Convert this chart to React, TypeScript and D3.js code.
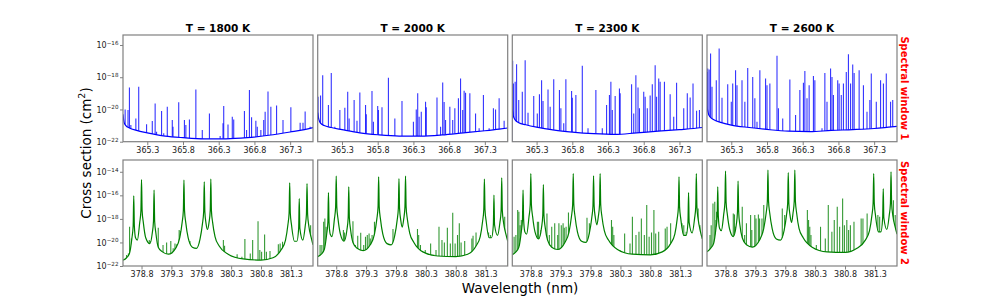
import React, { useEffect, useRef } from "react";
import * as d3 from "d3";

// values are [wavelength (nm), log10 cross section (cm^2)]
type Pt = [number, number];

const titles = ["T = 1800 K", "T = 2000 K", "T = 2300 K", "T = 2600 K"];
const windowLabels = ["Spectral window 1", "Spectral window 2"];
const ticksWin1 = [365.3, 365.8, 366.3, 366.8, 367.3];
const ticksWin2 = [378.8, 379.3, 379.8, 380.3, 380.8, 381.3];
const rangeWin1 = [364.96, 367.62];
const rangeWin2 = [378.49, 381.67];
const yExpWin1 = [-22, -20, -18, -16];
const yExpWin2 = [-22, -20, -18, -16, -14];
const yTopWin1 = -15.38;
const yTopWin2 = -13.0;

// ---- spectral window 1: continuum ----
const w1Base1800: Pt[] = [[364.96,-20.3],[364.975,-20.8],[365.0,-21.0],[365.05,-21.15],[365.15,-21.3],[365.3,-21.45],[365.55,-21.65],[365.8,-21.75],[366.1,-21.82],[366.4,-21.82],[366.7,-21.75],[367.0,-21.6],[367.3,-21.4],[367.5,-21.25],[367.62,-21.12]];
const w1Base2000: Pt[] = [[364.96,-20.2],[364.975,-20.6],[365.0,-20.85],[365.05,-21.0],[365.15,-21.12],[365.3,-21.25],[365.55,-21.45],[365.8,-21.57],[366.1,-21.65],[366.4,-21.65],[366.7,-21.58],[367.0,-21.45],[367.3,-21.32],[367.5,-21.22],[367.62,-21.15]];
const w1Base2300: Pt[] = [[364.96,-20.0],[364.975,-20.4],[365.0,-20.65],[365.05,-20.82],[365.15,-20.95],[365.3,-21.1],[365.55,-21.28],[365.8,-21.4],[366.1,-21.5],[366.4,-21.55],[366.7,-21.45],[367.0,-21.35],[367.3,-21.25],[367.5,-21.18],[367.62,-21.12]];
const w1Base2600: Pt[] = [[364.96,-19.8],[364.975,-20.2],[365.0,-20.45],[365.05,-20.62],[365.15,-20.8],[365.3,-20.97],[365.55,-21.12],[365.8,-21.24],[366.1,-21.35],[366.4,-21.38],[366.7,-21.3],[367.0,-21.25],[367.3,-21.18],[367.5,-21.1],[367.62,-21.05]];

// ---- spectral window 1: line peaks ----
const w1Lines1800: Pt[] = [[364.99,-20.0],[365.03,-20.04],[365.05,-18.64],[365.07,-20.97],[365.14,-20.56],[365.18,-18.59],[365.29,-20.91],[365.37,-20.72],[365.41,-19.63],[365.43,-21.38],[365.5,-20.1],[365.53,-21.48],[365.58,-19.83],[365.65,-20.66],[365.66,-21.07],[365.74,-19.56],[365.82,-20.66],[365.84,-20.97],[365.89,-20.62],[365.98,-18.76],[366.07,-21.28],[366.17,-20.25],[366.32,-21.65],[366.36,-20.86],[366.37,-19.79],[366.43,-20.93],[366.49,-20.45],[366.51,-20.62],[366.66,-20.1],[366.69,-21.28],[366.73,-18.8],[366.76,-20.49],[366.82,-20.7],[366.84,-21.07],[366.89,-21.28],[366.93,-20.66],[366.95,-20.14],[366.99,-18.88],[367.03,-19.83],[367.11,-19.75],[367.2,-20.66],[367.31,-19.87],[367.44,-20.82],[367.48,-20.82],[367.51,-20.12],[367.58,-21.07]];
const w1Lines2000: Pt[] = [[364.965,-19.21],[365.0,-19.13],[365.03,-17.87],[365.07,-21.07],[365.11,-19.73],[365.15,-17.73],[365.2,-21.07],[365.27,-20.04],[365.34,-19.89],[365.38,-18.9],[365.4,-20.56],[365.47,-19.42],[365.51,-20.7],[365.55,-18.95],[365.63,-19.73],[365.64,-20.29],[365.72,-18.86],[365.74,-20.76],[365.8,-19.79],[365.81,-20.04],[365.86,-19.87],[365.95,-18.04],[366.04,-20.56],[366.14,-19.48],[366.23,-21.65],[366.3,-20.76],[366.34,-20.0],[366.36,-19.0],[366.38,-20.45],[366.41,-20.14],[366.47,-19.52],[366.48,-19.87],[366.63,-19.25],[366.68,-21.07],[366.71,-18.33],[366.73,-19.54],[366.75,-20.66],[366.81,-19.83],[366.85,-20.66],[366.88,-19.93],[366.93,-19.31],[366.96,-18.08],[366.99,-20.04],[367.01,-18.84],[367.03,-18.97],[367.09,-19.0],[367.17,-20.25],[367.22,-21.17],[367.28,-19.11],[367.36,-21.17],[367.42,-19.93],[367.45,-20.0],[367.5,-19.31],[367.57,-20.7]];
const w1Lines2300: Pt[] = [[364.965,-16.98],[364.975,-18.39],[365.0,-18.28],[365.02,-17.19],[365.05,-19.42],[365.1,-18.9],[365.14,-16.94],[365.18,-20.2],[365.26,-19.17],[365.31,-20.25],[365.34,-19.05],[365.37,-18.18],[365.39,-19.48],[365.46,-18.76],[365.49,-19.83],[365.54,-18.12],[365.62,-18.8],[365.64,-19.93],[365.68,-20.86],[365.71,-18.12],[365.79,-18.86],[365.8,-19.28],[365.85,-19.11],[365.94,-17.29],[366.02,-21.17],[366.13,-18.8],[366.22,-21.17],[366.28,-19.73],[366.32,-19.11],[366.34,-18.28],[366.36,-20.04],[366.4,-19.17],[366.46,-18.7],[366.47,-18.99],[366.63,-18.43],[366.66,-20.25],[366.69,-17.87],[366.72,-18.64],[366.74,-19.93],[366.8,-18.9],[366.82,-19.21],[366.85,-19.93],[366.89,-19.13],[366.92,-18.43],[366.96,-17.25],[366.98,-19.21],[367.01,-18.08],[367.03,-18.28],[367.09,-18.28],[367.17,-19.05],[367.22,-20.45],[367.26,-18.35],[367.36,-19.93],[367.41,-18.99],[367.45,-19.25],[367.49,-18.39],[367.54,-20.08],[367.58,-20.04]];
const w1Lines2600: Pt[] = [[364.965,-17.67],[364.97,-17.46],[364.99,-17.52],[365.01,-16.53],[365.03,-18.59],[365.09,-18.18],[365.13,-16.22],[365.17,-19.28],[365.25,-18.43],[365.3,-19.52],[365.32,-18.39],[365.36,-17.56],[365.38,-18.49],[365.45,-18.18],[365.49,-19.52],[365.53,-17.42],[365.6,-17.98],[365.63,-19.31],[365.66,-20.76],[365.7,-17.56],[365.78,-18.08],[365.8,-18.49],[365.84,-18.39],[365.94,-16.67],[365.96,-19.93],[366.02,-20.56],[366.12,-18.14],[366.2,-20.35],[366.26,-18.8],[366.31,-18.35],[366.33,-17.62],[366.36,-19.31],[366.39,-18.49],[366.45,-17.92],[366.47,-18.18],[366.57,-21.17],[366.61,-17.73],[366.64,-19.52],[366.69,-17.46],[366.71,-17.98],[366.73,-19.11],[366.79,-18.18],[366.81,-18.39],[366.84,-19.11],[366.87,-18.39],[366.91,-17.67],[366.94,-16.57],[366.97,-18.39],[367.0,-17.21],[367.02,-17.73],[367.09,-17.56],[367.15,-18.49],[367.2,-20.14],[367.24,-19.42],[367.26,-17.77],[367.33,-19.52],[367.39,-18.18],[367.43,-18.39],[367.47,-17.77],[367.53,-19.52],[367.56,-19.42]];

// ---- spectral window 2: continuum incl. the strong broadened lines ----
const w2Base1800: Pt[] = [[378.49,-21.5],[378.55,-21.3],[378.6,-20.9],[378.64,-19.6],[378.66,-18.6],[378.67,-16.04],[378.68,-18.6],[378.7,-19.6],[378.73,-19.8],[378.77,-18.3],[378.79,-17.3],[378.8,-14.66],[378.81,-17.3],[378.83,-18.3],[378.87,-19.6],[378.94,-20.1],[378.98,-19.2],[379.0,-18.2],[379.01,-15.56],[379.02,-18.2],[379.04,-19.2],[379.08,-20.4],[379.15,-20.8],[379.25,-21.0],[379.37,-20.5],[379.44,-19.6],[379.48,-18.3],[379.5,-17.3],[379.51,-14.71],[379.52,-17.3],[379.54,-18.3],[379.58,-19.6],[379.65,-20.4],[379.72,-20.5],[379.78,-19.7],[379.82,-18.4],[379.84,-17.4],[379.85,-14.85],[379.86,-17.4],[379.88,-18.4],[379.905,-18.9],[379.93,-18.3],[379.95,-17.3],[379.96,-14.63],[379.97,-17.3],[379.99,-18.3],[380.03,-19.5],[380.1,-20.3],[380.25,-21.0],[380.5,-21.4],[380.8,-21.5],[381.0,-21.3],[381.14,-20.6],[381.21,-19.8],[381.25,-18.5],[381.27,-17.5],[381.28,-14.94],[381.29,-17.5],[381.31,-18.5],[381.36,-19.9],[381.4,-19.9],[381.43,-18.8],[381.44,-16.27],[381.45,-18.8],[381.5,-19.8],[381.54,-18.6],[381.56,-17.6],[381.57,-15.0],[381.58,-17.6],[381.6,-18.6],[381.64,-19.6],[381.67,-20.2]];
const w2Base2000: Pt[] = [[378.49,-21.2],[378.55,-21.0],[378.6,-20.6],[378.64,-19.3],[378.66,-18.3],[378.67,-15.76],[378.68,-18.3],[378.7,-19.3],[378.73,-19.5],[378.77,-18.0],[378.79,-17.0],[378.8,-14.37],[378.81,-17.0],[378.83,-18.0],[378.87,-19.3],[378.93,-19.9],[378.98,-18.9],[379.0,-17.9],[379.01,-15.28],[379.02,-17.9],[379.04,-18.9],[379.08,-20.0],[379.15,-20.5],[379.25,-20.7],[379.37,-20.2],[379.44,-19.3],[379.48,-18.0],[379.5,-17.0],[379.51,-14.43],[379.52,-17.0],[379.54,-18.0],[379.58,-19.3],[379.65,-20.1],[379.72,-20.2],[379.78,-19.4],[379.82,-18.1],[379.84,-17.1],[379.85,-14.57],[379.86,-17.1],[379.88,-18.1],[379.905,-18.7],[379.93,-18.0],[379.95,-17.0],[379.96,-14.37],[379.97,-17.0],[379.99,-18.0],[380.03,-19.2],[380.1,-20.0],[380.25,-20.8],[380.5,-21.15],[380.8,-21.2],[381.0,-21.0],[381.14,-20.3],[381.21,-19.5],[381.25,-18.2],[381.27,-17.2],[381.28,-14.63],[381.29,-17.2],[381.31,-18.2],[381.36,-19.6],[381.4,-19.6],[381.43,-18.5],[381.44,-15.98],[381.45,-18.5],[381.5,-19.4],[381.54,-18.3],[381.56,-17.3],[381.57,-14.51],[381.58,-17.3],[381.6,-18.3],[381.64,-19.3],[381.67,-19.9]];
const w2Base2300: Pt[] = [[378.49,-21.05],[378.55,-20.8],[378.6,-20.4],[378.64,-19.1],[378.66,-18.1],[378.67,-15.56],[378.68,-18.1],[378.7,-19.1],[378.73,-19.3],[378.77,-17.8],[378.79,-16.8],[378.8,-14.15],[378.81,-16.8],[378.83,-17.8],[378.87,-19.1],[378.93,-19.7],[378.98,-18.7],[379.0,-17.7],[379.01,-15.08],[379.02,-17.7],[379.04,-18.7],[379.08,-19.8],[379.15,-20.4],[379.25,-20.6],[379.37,-20.0],[379.44,-19.1],[379.48,-17.8],[379.5,-16.8],[379.51,-14.15],[379.52,-16.8],[379.54,-17.8],[379.58,-19.1],[379.65,-19.9],[379.72,-20.0],[379.78,-19.2],[379.82,-17.9],[379.84,-16.9],[379.85,-14.34],[379.86,-16.9],[379.88,-17.9],[379.905,-18.5],[379.93,-17.8],[379.95,-16.8],[379.96,-14.15],[379.97,-16.8],[379.99,-17.8],[380.03,-19.0],[380.1,-19.8],[380.25,-20.6],[380.5,-21.0],[380.8,-21.05],[381.0,-20.8],[381.14,-20.1],[381.21,-19.3],[381.25,-18.0],[381.27,-17.0],[381.28,-14.43],[381.29,-17.0],[381.31,-18.0],[381.36,-19.4],[381.4,-19.4],[381.43,-18.3],[381.44,-15.76],[381.45,-18.3],[381.5,-19.2],[381.54,-18.0],[381.56,-17.0],[381.57,-14.15],[381.58,-17.0],[381.6,-18.0],[381.64,-19.1],[381.67,-19.7]];
const w2Base2600: Pt[] = [[378.49,-20.8],[378.55,-20.5],[378.6,-20.1],[378.64,-18.8],[378.66,-17.8],[378.67,-15.28],[378.68,-17.8],[378.7,-18.8],[378.73,-19.0],[378.77,-17.6],[378.79,-16.6],[378.8,-13.95],[378.81,-16.6],[378.83,-17.6],[378.87,-18.9],[378.93,-19.5],[378.98,-18.5],[379.0,-17.4],[379.01,-14.8],[379.02,-17.4],[379.04,-18.5],[379.08,-19.6],[379.15,-20.2],[379.25,-20.4],[379.37,-19.8],[379.44,-18.8],[379.48,-17.5],[379.5,-16.5],[379.51,-13.86],[379.52,-16.5],[379.54,-17.5],[379.58,-18.8],[379.65,-19.7],[379.72,-19.8],[379.78,-19.0],[379.82,-17.7],[379.84,-16.7],[379.85,-14.06],[379.86,-16.7],[379.88,-17.7],[379.905,-18.3],[379.93,-17.5],[379.95,-16.5],[379.96,-13.86],[379.97,-16.5],[379.99,-17.5],[380.03,-18.8],[380.1,-19.6],[380.25,-20.4],[380.5,-20.8],[380.8,-20.85],[381.0,-20.5],[381.14,-19.8],[381.21,-19.0],[381.25,-17.7],[381.27,-16.7],[381.28,-14.15],[381.29,-16.7],[381.31,-17.7],[381.36,-19.1],[381.4,-19.1],[381.43,-17.9],[381.44,-15.42],[381.45,-17.9],[381.5,-18.9],[381.54,-17.7],[381.56,-16.7],[381.57,-14.01],[381.58,-16.7],[381.6,-17.7],[381.64,-18.7],[381.67,-19.3]];

// ---- spectral window 2: narrow line peaks ----
const w2Lines1800: Pt[] = [[378.55,-21.07],[378.58,-20.93],[378.6,-18.67],[378.63,-19.66],[378.65,-20.64],[378.93,-19.8],[378.95,-19.88],[378.98,-20.79],[379.04,-20.93],[379.08,-18.75],[379.11,-20.79],[379.16,-20.22],[379.22,-20.0],[379.29,-19.88],[379.33,-20.5],[379.36,-20.08],[379.39,-20.16],[379.43,-18.95],[379.45,-19.03],[379.61,-19.88],[379.77,-19.88],[379.8,-19.8],[380.17,-19.8],[380.19,-20.28],[380.22,-21.01],[380.4,-21.01],[380.48,-21.21],[380.53,-19.71],[380.62,-20.93],[380.66,-19.8],[380.75,-18.19],[380.78,-20.64],[380.81,-20.79],[380.86,-19.32],[380.89,-20.79],[380.95,-20.73],[381.09,-20.16],[381.12,-20.08],[381.16,-19.94],[381.34,-20.0],[381.37,-20.0],[381.4,-20.16],[381.63,-18.53]];
const w2Lines2000: Pt[] = [[378.53,-20.22],[378.56,-20.22],[378.59,-18.24],[378.61,-17.96],[378.63,-18.67],[378.64,-19.66],[378.78,-18.81],[378.92,-18.95],[378.94,-19.15],[378.98,-19.51],[379.05,-19.37],[379.08,-18.19],[379.12,-20.22],[379.16,-19.43],[379.21,-19.18],[379.26,-20.22],[379.29,-19.51],[379.32,-19.37],[379.35,-19.23],[379.37,-19.66],[379.4,-19.37],[379.44,-18.24],[379.75,-18.86],[379.79,-19.15],[380.16,-18.86],[380.18,-19.37],[380.21,-20.22],[380.29,-20.64],[380.38,-20.08],[380.47,-20.64],[380.52,-18.67],[380.57,-19.8],[380.61,-20.0],[380.66,-18.75],[380.71,-20.08],[380.75,-17.48],[380.79,-20.08],[380.83,-19.37],[380.86,-18.38],[380.89,-20.0],[380.95,-19.88],[381.07,-19.66],[381.09,-19.43],[381.14,-19.15],[381.35,-19.15],[381.38,-19.37],[381.62,-17.82],[381.66,-19.66]];
const w2Lines2300: Pt[] = [[378.52,-19.51],[378.55,-19.37],[378.58,-17.25],[378.6,-17.4],[378.62,-18.53],[378.64,-18.1],[378.91,-18.24],[378.93,-18.24],[378.97,-18.95],[378.99,-19.51],[379.03,-19.51],[379.07,-17.54],[379.11,-19.37],[379.15,-18.67],[379.2,-18.38],[379.25,-19.37],[379.27,-18.38],[379.31,-18.53],[379.34,-18.38],[379.36,-18.75],[379.39,-18.67],[379.43,-17.45],[379.74,-17.9],[379.78,-18.38],[380.15,-18.1],[380.17,-18.67],[380.19,-19.37],[380.29,-20.64],[380.37,-19.23],[380.46,-20.08],[380.5,-17.82],[380.56,-19.37],[380.61,-19.09],[380.65,-17.96],[380.7,-19.37],[380.74,-16.83],[380.78,-19.51],[380.82,-19.15],[380.86,-17.25],[380.89,-19.23],[380.94,-19.09],[381.05,-18.81],[381.08,-18.67],[381.14,-18.38],[381.33,-18.38],[381.36,-18.53],[381.4,-19.09],[381.6,-17.11],[381.63,-18.53]];
const w2Lines2600: Pt[] = [[378.54,-19.37],[378.56,-18.53],[378.59,-16.69],[378.62,-16.55],[378.64,-18.1],[378.65,-17.4],[378.73,-18.95],[378.93,-17.54],[378.95,-17.62],[378.97,-18.67],[378.99,-18.67],[379.05,-19.09],[379.08,-16.97],[379.12,-19.37],[379.15,-18.38],[379.22,-17.68],[379.24,-18.95],[379.29,-17.68],[379.31,-17.96],[379.35,-17.62],[379.37,-17.96],[379.41,-17.96],[379.44,-16.83],[379.75,-17.11],[379.79,-17.68],[380.17,-17.25],[380.19,-18.1],[380.21,-18.67],[380.23,-19.37],[380.32,-20.22],[380.39,-18.67],[380.47,-19.66],[380.52,-16.83],[380.58,-19.09],[380.62,-18.1],[380.67,-16.97],[380.71,-18.67],[380.76,-16.27],[380.79,-18.53],[380.83,-18.1],[380.86,-18.95],[380.89,-18.53],[380.95,-18.24],[381.07,-17.96],[381.1,-17.96],[381.17,-17.54],[381.35,-17.68],[381.38,-17.82],[381.43,-18.38],[381.61,-16.41],[381.64,-17.68]];

const win1Base = [w1Base1800, w1Base2000, w1Base2300, w1Base2600];
const win1Lines = [w1Lines1800, w1Lines2000, w1Lines2300, w1Lines2600];
const win2Base = [w2Base1800, w2Base2000, w2Base2300, w2Base2600];
const win2Lines = [w2Lines1800, w2Lines2000, w2Lines2300, w2Lines2600];

const FONT = "DejaVu Sans, sans-serif";
const colX = [123, 317.7, 512.3, 707];
const panelW = 190;
const rowY = [35, 160];
const rowH = [106.7, 106];

function Panel(props: any) {
  const { id, x, y, w, h, xDomain, yTop, base, lines, color, xTicks, yTicks, showY } = props;
  const xRef = useRef<SVGGElement>(null);
  const yRef = useRef<SVGGElement>(null);

  const xs = d3.scaleLinear().domain(xDomain).range([0, w]);
  const ys = d3.scaleLog().domain([1e-22, 10 ** yTop]).range([h, 0]);
  const yv = (d: Pt) => ys(10 ** d[1]);

  const line = d3.line<Pt>().x((d) => xs(d[0])).y(yv).curve(d3.curveMonotoneX);
  const mask = d3
    .area<Pt>()
    .x((d) => xs(d[0]))
    .y0(h + 2)
    .y1(yv)
    .curve(d3.curveMonotoneX);

  useEffect(() => {
    const gx = d3.select(xRef.current);
    gx.call(
      d3
        .axisBottom(xs)
        .tickValues(xTicks)
        .tickFormat(d3.format(".1f"))
        .tickSize(3.5)
        .tickPadding(2)
    );
    gx.attr("font-size", 8).attr("font-family", FONT);
    gx.select(".domain").remove();
    gx.selectAll(".tick line").attr("stroke", "#808080");
    gx.selectAll(".tick text").attr("fill", "#222");

    if (showY && yRef.current) {
      const gy = d3.select(yRef.current);
      gy.call(
        d3
          .axisLeft(ys)
          .tickValues(yTicks.map((e: number) => 10 ** e))
          .tickSize(3)
          .tickPadding(1.5)
      );
      gy.attr("font-size", 8).attr("font-family", FONT);
      gy.select(".domain").remove();
      gy.selectAll(".tick line").attr("stroke", "#808080");
      gy.selectAll(".tick text").each(function (d: any) {
        const t = d3.select(this as SVGTextElement);
        const e = Math.round(Math.log10(d));
        t.text(null).attr("fill", "#222");
        t.append("tspan").text("10");
        t.append("tspan")
          .attr("dy", "-0.55em")
          .attr("font-size", 5.6)
          .text("\u2212" + Math.abs(e));
      });
    }
  });

  return (
    <g transform={`translate(${x},${y})`}>
      <clipPath id={`clip-${id}`}>
        <rect x={0} y={0} width={w} height={h} />
      </clipPath>
      <g clipPath={`url(#clip-${id})`}>
        {lines.map((d: Pt, i: number) => (
          <line
            key={i}
            x1={xs(d[0])}
            x2={xs(d[0])}
            y1={h}
            y2={yv(d)}
            stroke={color}
            strokeOpacity={0.8}
            strokeWidth={1.1}
          />
        ))}
        <path d={mask(base) || ""} fill="white" />
        <path d={line(base) || ""} fill="none" stroke={color} strokeWidth={1.2} />
      </g>
      <rect x={0} y={0} width={w} height={h} fill="none" stroke="#808080" strokeWidth={1.2} />
      <g ref={xRef} transform={`translate(0,${h})`} />
      {showY && <g ref={yRef} />}
    </g>
  );
}

export default function App() {
  return (
    <svg
      width={997}
      height={299}
      style={{ position: "absolute", left: 0, top: 0, background: "white" }}
      fontFamily={FONT}
    >
      {titles.map((t, i) => (
        <text
          key={t}
          x={colX[i] + panelW / 2}
          y={31.5}
          textAnchor="middle"
          fontSize={10.5}
          fontWeight="bold"
          fill="#000"
        >
          {t}
        </text>
      ))}
      {titles.map((t, i) => (
        <Panel
          key={"w1" + i}
          id={"w1" + i}
          x={colX[i]}
          y={rowY[0]}
          w={panelW}
          h={rowH[0]}
          xDomain={rangeWin1}
          yTop={yTopWin1}
          base={win1Base[i]}
          lines={win1Lines[i]}
          color="#0000ff"
          xTicks={ticksWin1}
          yTicks={yExpWin1}
          showY={i === 0}
        />
      ))}
      {titles.map((t, i) => (
        <Panel
          key={"w2" + i}
          id={"w2" + i}
          x={colX[i]}
          y={rowY[1]}
          w={panelW}
          h={rowH[1]}
          xDomain={rangeWin2}
          yTop={yTopWin2}
          base={win2Base[i]}
          lines={win2Lines[i]}
          color="#008000"
          xTicks={ticksWin2}
          yTicks={yExpWin2}
          showY={i === 0}
        />
      ))}
      {windowLabels.map((t, r) => (
        <text
          key={t}
          transform={`translate(904,${rowY[r] + rowH[r] / 2}) rotate(90)`}
          textAnchor="middle"
          dominantBaseline="central"
          fontSize={10}
          fontWeight="bold"
          fill="#ff0000"
        >
          {t}
        </text>
      ))}
      <text
        transform="translate(86,153) rotate(-90)"
        textAnchor="middle"
        dominantBaseline="central"
        fontSize={13.5}
        fill="#000"
      >
        Cross section (cm<tspan dy={-5} fontSize={9.5}>2</tspan>
        <tspan dy={5}>)</tspan>
      </text>
      <text x={520} y={292.5} textAnchor="middle" fontSize={13.5} fill="#000">
        Wavelength (nm)
      </text>
    </svg>
  );
}
